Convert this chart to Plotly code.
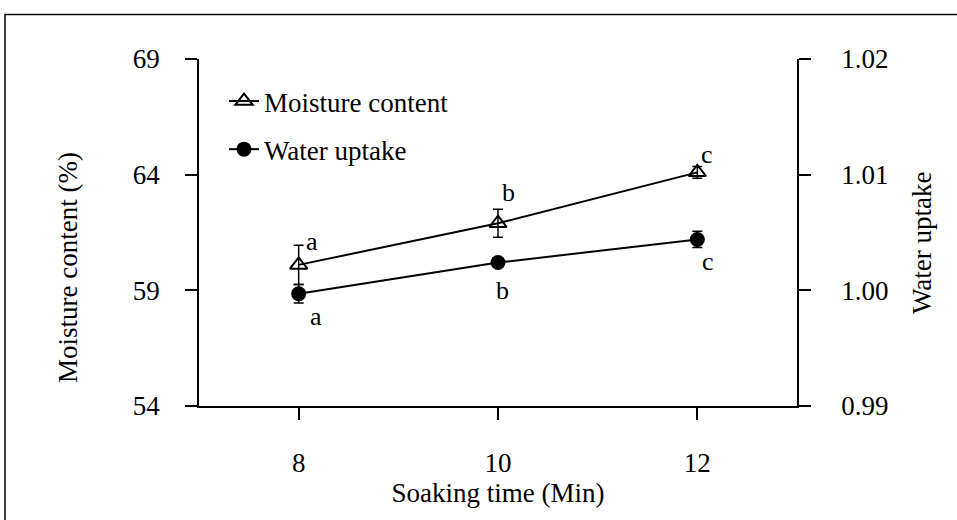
import plotly.graph_objects as go

soak_time = [8, 10, 12]
moisture = [60.1, 61.9, 64.1]
moisture_err = [0.85, 0.6, 0.25]
water = [0.9997, 1.0024, 1.0044]
water_err = [0.0008, 0.0002, 0.0007]
moisture_letters = ["a", "b", "c"]
water_letters = ["a", "b", "c"]

FONT = "Liberation Serif, Times New Roman, serif"
FS = 27

fig = go.Figure()
fig.add_trace(go.Scatter(
    x=soak_time, y=moisture, name="Moisture content", mode="lines+markers",
    line=dict(color="black", width=2),
    marker=dict(symbol="triangle-up-open", size=15, color="black", line=dict(width=2, color="black")),
    error_y=dict(type="data", array=moisture_err, color="black", thickness=1.5, width=5),
    legendgroup="g1",
))
fig.add_trace(go.Scatter(
    x=soak_time, y=water, name="Water uptake", mode="lines+markers", yaxis="y2",
    line=dict(color="black", width=2),
    marker=dict(symbol="circle", size=15, color="black"),
    error_y=dict(type="data", array=water_err, color="black", thickness=1.5, width=5),
    legendgroup="g2",
))

ann = []
m_shift = [(13, 23), (10, 31), (10, 18)]
w_shift = [(17, -23), (4, -28), (11, -22)]
for xv, yv, t, (dx, dy) in zip(soak_time, moisture, moisture_letters, m_shift):
    ann.append(dict(x=xv, y=yv, xref="x", yref="y", text=t, showarrow=False,
                    xshift=dx, yshift=dy, font=dict(size=26, family=FONT, color="black")))
for xv, yv, t, (dx, dy) in zip(soak_time, water, water_letters, w_shift):
    ann.append(dict(x=xv, y=yv, xref="x", yref="y2", text=t, showarrow=False,
                    xshift=dx, yshift=dy, font=dict(size=26, family=FONT, color="black")))

L, R, T, B = 199, 160, 59, 114
PW, PH = 957 - L - R, 520 - T - B

def px_x(p):
    return (p - L) / PW

def px_y(p):
    return (520 - B - p) / PH

ann.append(dict(x=px_x(68), y=px_y(268), xref="paper", yref="paper", text="Moisture content (%)",
                xanchor="center", yanchor="middle",
                textangle=-90, showarrow=False, font=dict(size=FS, family=FONT, color="black")))
ann.append(dict(x=px_x(922), y=px_y(243), xref="paper", yref="paper", text="Water uptake",
                xanchor="center", yanchor="middle",
                textangle=-90, showarrow=False, font=dict(size=FS, family=FONT, color="black")))

axis_common = dict(showline=True, linecolor="black", linewidth=1.5, ticks="outside",
                   ticklen=12, tickwidth=1.5, tickcolor="black", showgrid=False, zeroline=False,
                   tickfont=dict(size=FS, family=FONT, color="black"))

fig.update_layout(
    width=957, height=520,
    margin=dict(l=L, r=R, t=T, b=B),
    paper_bgcolor="white", plot_bgcolor="white",
    font=dict(family=FONT, size=FS, color="black"),
    xaxis=dict(range=[7, 13], tickvals=soak_time, ticklabelstandoff=20,
               title=dict(text="Soaking time (Min)", font=dict(size=FS, family=FONT), standoff=0),
               **axis_common),
    yaxis=dict(range=[54, 69], tickvals=[54, 59, 64, 69], ticklabelstandoff=20, **axis_common),
    yaxis2=dict(range=[0.99, 1.02], tickvals=[0.99, 1.00, 1.01, 1.02], tickformat=".2f",
                overlaying="y", side="right", ticklabelstandoff=25, **axis_common),
    legend=dict(x=px_x(224), y=px_y(77), xanchor="left", yanchor="top", bgcolor="rgba(0,0,0,0)",
                traceorder="grouped", tracegroupgap=10, font=dict(size=FS, family=FONT, color="black")),
    annotations=ann,
    shapes=[dict(type="rect", xref="paper", yref="paper", x0=px_x(5), x1=px_x(962),
                 y0=px_y(530), y1=px_y(14.5), line=dict(color="black", width=1.5), layer="below")],
)

fig.write_html("out.html")
